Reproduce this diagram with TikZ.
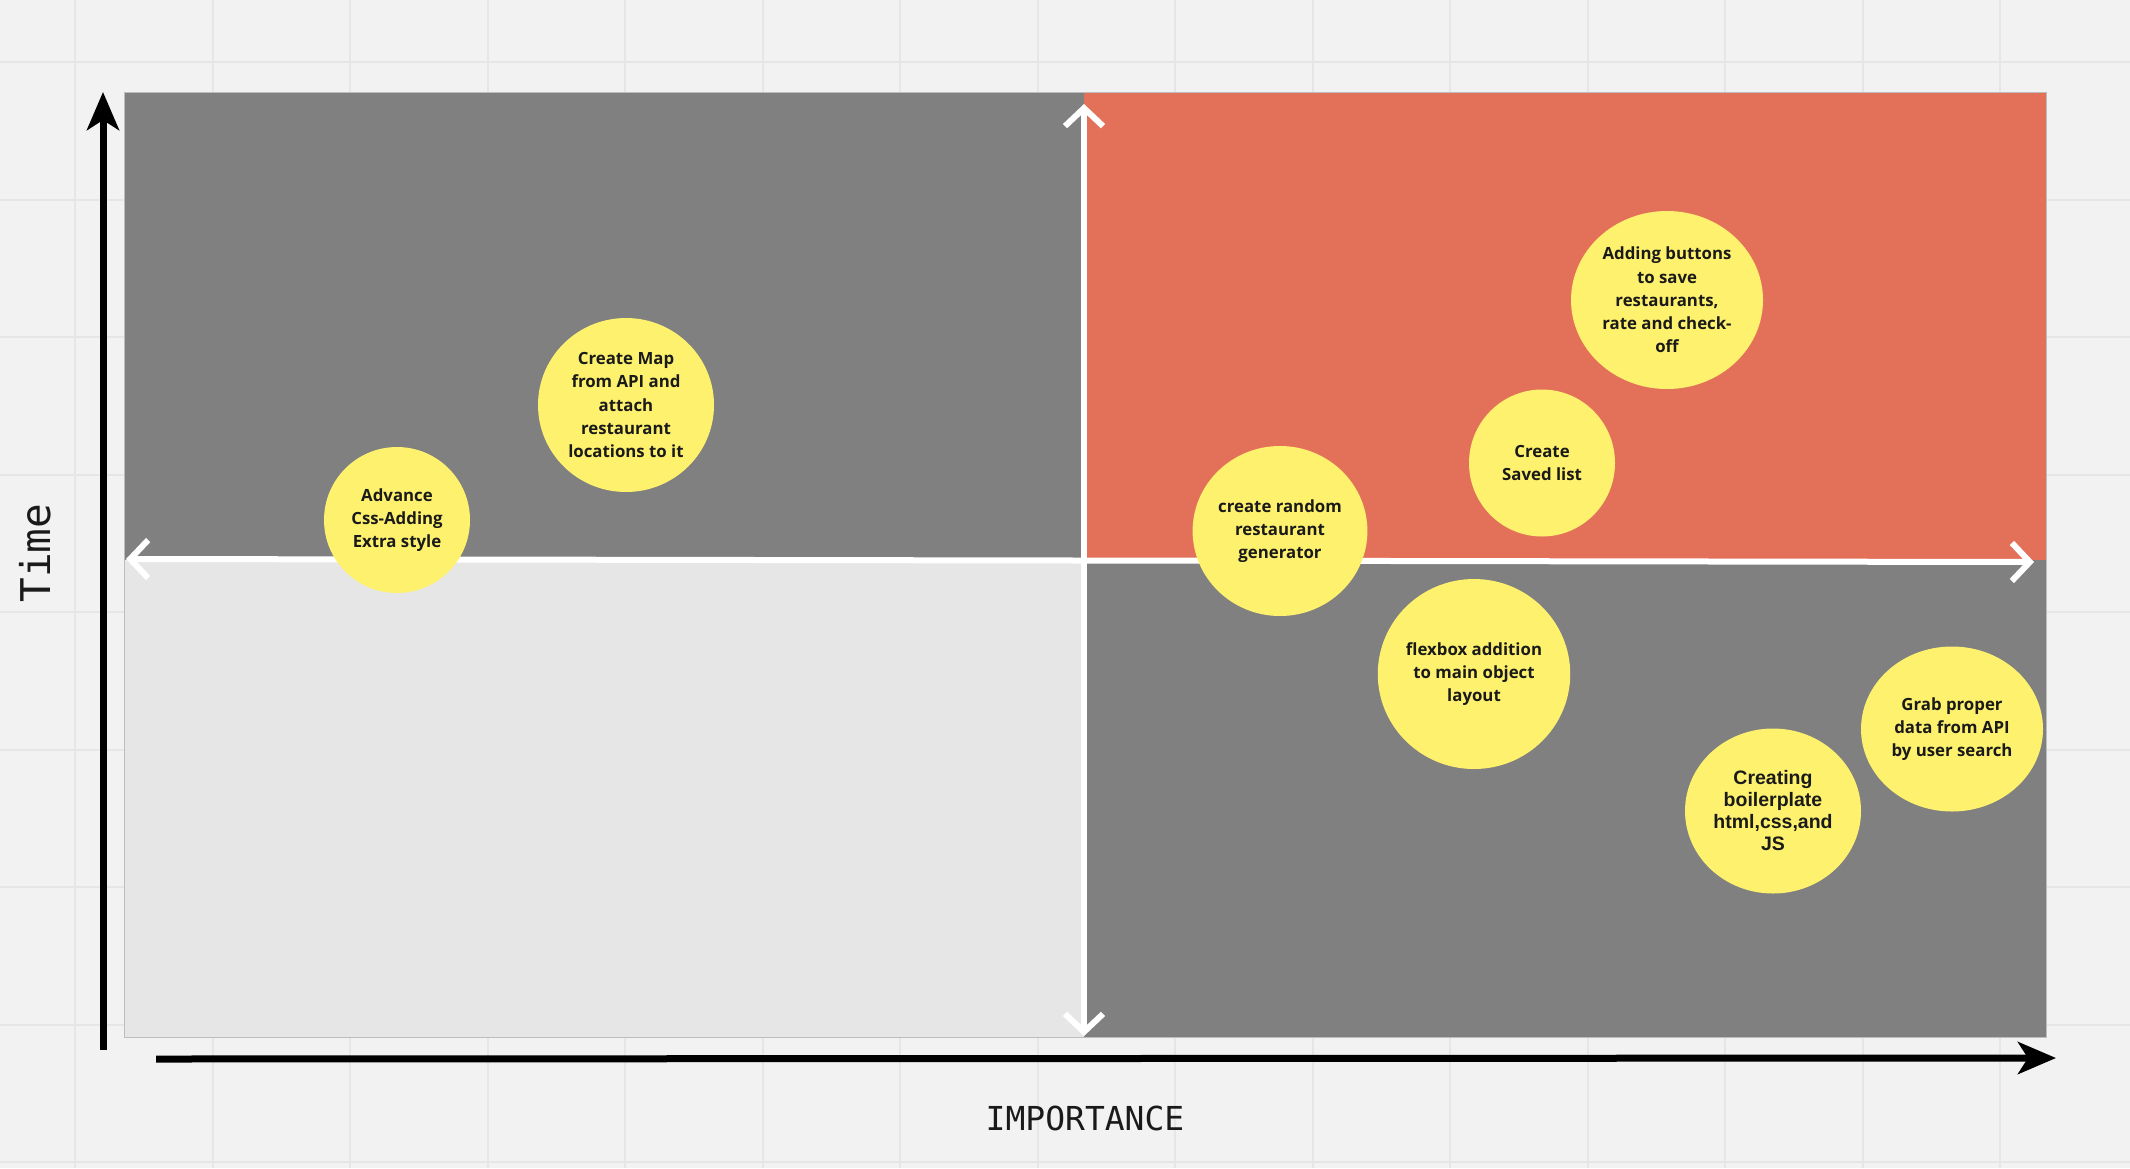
\documentclass[tikz,border=0pt]{standalone}
\usepackage{fontspec}
\setmainfont{Open Sans}
\newfontfamily\monofam{DejaVu Sans Mono}
\newfontfamily\arialfam{Liberation Sans}
\usetikzlibrary{arrows.meta,shapes.geometric}

\definecolor{canvas}{HTML}{F2F2F2}
\definecolor{gridcol}{HTML}{E6E6E6}
\definecolor{darkq}{HTML}{808080}
\definecolor{lightq}{HTML}{E6E6E6}
\definecolor{hotq}{HTML}{E3715A}
\definecolor{note}{HTML}{FDF16D}
\definecolor{ink}{HTML}{1A1A1A}
\definecolor{rim}{HTML}{BDBDBD}

\tikzset{
  gridline/.style={draw=gridcol, line width=2pt},
  divider/.style={draw=white, line width=6pt,
    {Straight Barb[length=18pt,width=38pt]}-{Straight Barb[length=18pt,width=38pt]}},
  axisline/.style={draw=black, line width=7pt,
    -{Stealth[length=38pt,width=32pt,inset=10pt]}},
  sticky/.style={shape=ellipse, fill=note, inner sep=0pt, align=center,
    text=ink, font=\bfseries\fontsize{16.8}{23.3}\selectfont},
  axislabel/.style={text=ink, inner sep=0pt}
}

\begin{document}
\begin{tikzpicture}[x=1pt,y=-1pt]
  \useasboundingbox (0,0) rectangle (2130,1168);

  % board background with its grid
  \fill[canvas] (0,0) rectangle (2130,1168);
  \foreach \gx in {75,212.5,...,2130} \draw[gridline] (\gx,0) -- (\gx,1168);
  \foreach \gy in {62,199.5,...,1168} \draw[gridline] (0,\gy) -- (2130,\gy);

  % four quadrants
  \fill[darkq]  (124,92)   rectangle (1084,560);
  \fill[lightq] (124,560)  rectangle (1084,1037);
  \fill[hotq]   (1084,92)  rectangle (2046,560);
  \fill[darkq]  (1084,560) rectangle (2046,1037);
  \draw[rim, line width=1pt] (124,92) rectangle (2046,1037);

  % white dividers
  \coordinate (hl) at (126,559);
  \coordinate (hr) at (2034,562);
  \coordinate (vt) at (1084,104);
  \coordinate (vb) at (1084,1036);
  \draw[divider] (hl) -- (hr);
  \draw[divider] (vb) -- (vt);

  % black axes
  \coordinate (yb) at (103,1050);
  \coordinate (yt) at (103,92);
  \coordinate (xl) at (156,1059);
  \coordinate (xr) at (2056,1058);
  \draw[axisline] (yb) -- (yt);
  \draw[axisline] (xl) -- (xr);

  % axis labels
  \node[axislabel, font=\monofam\fontsize{33}{39}\selectfont] (ximp) at (1085,1118) {IMPORTANCE};
  \node[axislabel, rotate=90, font=\monofam\fontsize{41}{48}\selectfont] (ytime) at (35,553) {Time};

  % task notes
  \node[sticky, minimum width=146pt, minimum height=146pt] (adv) at (397,520)
    {Advance\\Css-Adding\\Extra style};
  \node[sticky, minimum width=176pt, minimum height=174pt] (map) at (626,405)
    {Create Map\\from API and\\attach\\restaurant\\locations to it};
  \node[sticky, minimum width=174pt, minimum height=170pt] (rand) at (1280,531)
    {create random\\restaurant\\generator};
  \node[sticky, minimum width=146pt, minimum height=147pt] (saved) at (1542,463)
    {Create\\Saved list};
  \node[sticky, minimum width=192pt, minimum height=190pt] (flex) at (1474,674)
    {flexbox addition\\to main object\\layout};
  \node[sticky, minimum width=192pt, minimum height=178pt] (btns) at (1667,300)
    {Adding buttons\\to save\\restaurants,\\rate and check-\\off};
  \node[sticky, minimum width=176pt, minimum height=165pt,
        font=\arialfam\bfseries\fontsize{19.5}{22}\selectfont] (boil) at (1773,811)
    {Creating\\boilerplate\\html,css,and\\JS};
  \node[sticky, minimum width=182pt, minimum height=165pt] (grab) at (1952,729)
    {Grab proper\\data from API\\by user search};
\end{tikzpicture}
\end{document}
